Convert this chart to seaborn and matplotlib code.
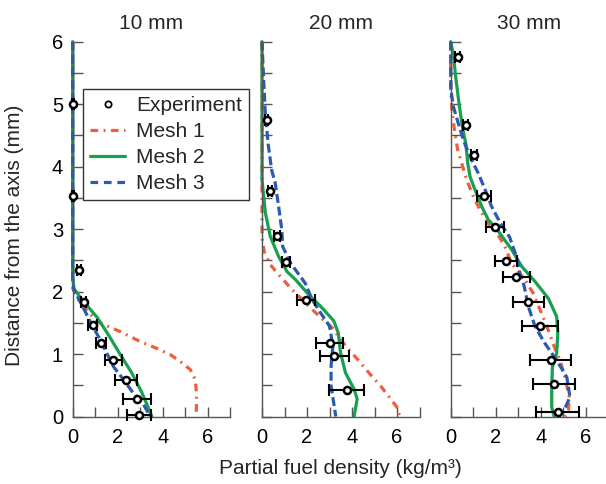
import matplotlib
matplotlib.use("Agg")
import matplotlib.pyplot as plt
from matplotlib.lines import Line2D
import pandas as pd
import seaborn as sns

sns.set_style("ticks")
plt.rcParams["font.family"] = ["Liberation Sans", "DejaVu Sans"]

# ---- data: axial distance (mm) vs partial fuel density (kg/m^3) ----
panel_titles = ["10 mm", "20 mm", "30 mm"]
series_names = ["Mesh 1", "Mesh 2", "Mesh 3"]

# 10 mm
mesh1_10_y = [6.0, 2.05, 1.87, 1.76, 1.52, 1.36, 1.20, 1.09, 0.99, 0.88, 0.75, 0.59, 0.37, 0.16, 0.0]
mesh1_10_x = [0.0, 0.0, 0.25, 0.48, 1.07, 2.11, 3.00, 3.74, 4.34, 4.78, 5.23, 5.45, 5.50, 5.50, 5.48]
mesh2_10_y = [6.0, 2.25, 2.05, 1.90, 1.75, 1.58, 1.30, 1.00, 0.70, 0.40, 0.15, 0.0]
mesh2_10_x = [0.0, 0.0, 0.05, 0.35, 0.70, 1.10, 1.60, 2.10, 2.62, 3.05, 3.35, 3.52]
mesh3_10_y = [6.0, 2.20, 2.03, 1.84, 1.47, 1.23, 1.01, 0.80, 0.59, 0.37, 0.19, 0.0]
mesh3_10_x = [0.0, 0.0, 0.05, 0.33, 0.85, 1.22, 1.52, 1.81, 2.26, 2.70, 3.15, 3.45]
exp_10_y = [5.0, 3.53, 2.34, 1.84, 1.47, 1.18, 0.91, 0.59, 0.28, 0.03]
exp_10_x = [0.0, 0.0, 0.27, 0.48, 0.89, 1.25, 1.81, 2.36, 2.85, 2.96]
exp_10_err = [0.05, 0.05, 0.08, 0.10, 0.19, 0.22, 0.36, 0.48, 0.62, 0.53]

# 20 mm
mesh1_20_y = [6.0, 3.68, 2.86, 2.64, 2.43, 2.24, 2.03, 1.82, 1.61, 1.42, 1.13, 0.89, 0.70, 0.49, 0.28, 0.12, 0.0]
mesh1_20_x = [0.0, 0.0, 0.0, 0.10, 0.37, 0.82, 1.34, 1.93, 2.53, 3.12, 3.71, 4.31, 4.75, 5.27, 5.72, 6.06, 6.10]
mesh2_20_y = [6.0, 3.79, 3.26, 2.88, 2.56, 2.32, 2.19, 1.95, 1.74, 1.53, 1.34, 1.02, 0.70, 0.44, 0.28, 0.0]
mesh2_20_x = [0.0, 0.0, 0.15, 0.37, 0.74, 1.11, 1.49, 2.08, 2.67, 3.19, 3.39, 3.49, 3.71, 4.09, 4.23, 4.09]
mesh3_20_y = [6.0, 5.49, 4.90, 4.37, 3.94, 3.75, 3.36, 2.99, 2.72, 2.45, 2.13, 1.87, 1.66, 1.45, 1.13, 0.81, 0.49, 0.0]
mesh3_20_x = [0.0, 0.06, 0.14, 0.27, 0.43, 0.58, 0.74, 0.88, 0.92, 1.28, 1.93, 2.23, 2.60, 3.00, 3.15, 3.07, 3.07, 3.28]
exp_20_y = [4.75, 3.61, 2.89, 2.47, 1.86, 1.18, 0.97, 0.42]
exp_20_x = [0.21, 0.36, 0.67, 1.08, 1.96, 3.00, 3.22, 3.76]
exp_20_err = [0.06, 0.08, 0.12, 0.18, 0.39, 0.60, 0.65, 0.78]

# 30 mm
mesh1_30_y = [6.0, 5.23, 4.85, 4.53, 4.27, 4.05, 3.79, 3.52, 3.31, 3.09, 2.99, 2.72, 2.45, 2.19, 1.97, 1.65, 1.38, 1.11, 0.90, 0.63, 0.31, 0.10, 0.0]
mesh1_30_x = [0.0, 0.0, 0.07, 0.19, 0.31, 0.49, 0.71, 1.01, 1.30, 1.67, 1.97, 2.41, 2.71, 3.30, 3.67, 4.04, 4.34, 4.61, 4.86, 5.08, 5.27, 5.23, 5.08]
mesh2_30_y = [6.0, 5.79, 5.44, 5.01, 4.64, 4.37, 4.05, 3.84, 3.63, 3.36, 3.15, 3.00, 2.67, 2.40, 2.16, 1.89, 1.60, 1.33, 1.01, 0.79, 0.47, 0.15, 0.0]
mesh2_30_x = [0.0, 0.12, 0.22, 0.37, 0.52, 0.67, 0.76, 0.86, 1.08, 1.38, 1.67, 2.05, 2.71, 3.16, 3.75, 4.34, 4.71, 4.76, 4.71, 4.52, 4.49, 4.49, 4.60]
mesh3_30_y = [6.0, 5.55, 5.23, 4.96, 4.69, 4.43, 4.16, 3.89, 3.63, 3.36, 3.10, 2.87, 2.55, 2.29, 2.08, 1.76, 1.44, 1.17, 0.90, 0.63, 0.31, 0.07, 0.0]
mesh3_30_x = [0.0, 0.0, 0.01, 0.12, 0.34, 0.56, 0.86, 1.23, 1.53, 1.82, 2.20, 2.62, 2.93, 3.08, 3.27, 3.45, 3.75, 4.19, 4.71, 5.16, 5.30, 5.00, 4.79]
exp_30_y = [5.75, 4.67, 4.18, 3.53, 3.04, 2.49, 2.23, 1.83, 1.45, 0.90, 0.52, 0.07]
exp_30_x = [0.31, 0.67, 1.04, 1.48, 1.97, 2.46, 2.92, 3.45, 3.97, 4.44, 4.59, 4.76]
exp_30_err = [0.10, 0.12, 0.15, 0.30, 0.40, 0.50, 0.60, 0.70, 0.80, 0.90, 0.95, 0.96]

x_ticks = [0, 2, 4, 6]
y_ticks = [0, 1, 2, 3, 4, 5, 6]

panels = [
    dict(mesh=[(mesh1_10_x, mesh1_10_y), (mesh2_10_x, mesh2_10_y), (mesh3_10_x, mesh3_10_y)],
         exp=(exp_10_x, exp_10_y, exp_10_err)),
    dict(mesh=[(mesh1_20_x, mesh1_20_y), (mesh2_20_x, mesh2_20_y), (mesh3_20_x, mesh3_20_y)],
         exp=(exp_20_x, exp_20_y, exp_20_err)),
    dict(mesh=[(mesh1_30_x, mesh1_30_y), (mesh2_30_x, mesh2_30_y), (mesh3_30_x, mesh3_30_y)],
         exp=(exp_30_x, exp_30_y, exp_30_err)),
]

# ---- styling ----
palette = {"Mesh 1": "#EF5D3B", "Mesh 2": "#17A050", "Mesh 3": "#2A5BAF"}
dash_map = {"Mesh 1": (2.4, 1.7, 0.6, 1.7), "Mesh 2": "", "Mesh 3": (2.8, 1.2)}
line_w = 2.3
spine_c = "#555555"
fs = 15

W, H = 606.0, 484.0
lefts_px = [72.7, 262.0, 450.7]
width_px, bottom_px, height_px = 157.5, 416.5, 374.8

fig = plt.figure(figsize=(W / 100, H / 100), dpi=100)

for i, (title, panel) in enumerate(zip(panel_titles, panels)):
    ax = fig.add_axes([lefts_px[i] / W, 1 - bottom_px / H, width_px / W, height_px / H])

    frames = []
    for name, (xs, ys) in zip(series_names, panel["mesh"]):
        frames.append(pd.DataFrame({"density": xs, "distance": ys, "model": name}))
    df = pd.concat(frames, ignore_index=True)

    sns.lineplot(data=df, x="density", y="distance", hue="model", style="model",
                 palette=palette, dashes=dash_map, sort=False, estimator=None,
                 linewidth=line_w, legend=False, ax=ax, clip_on=False)

    ex, ey, eerr = panel["exp"]
    ax.errorbar(ex, ey, xerr=eerr, fmt="none", ecolor="black", elinewidth=1.5,
                capsize=4.2, capthick=1.5, zorder=4, clip_on=False)
    sns.scatterplot(x=ex, y=ey, marker="o", s=26, facecolor="white",
                    edgecolor="black", linewidth=1.8, zorder=5, ax=ax, clip_on=False)

    ax.set_xlim(0, 7)
    ax.set_ylim(0, 6)
    ax.set_xticks(x_ticks)
    ax.set_xticks([1, 3, 5, 7], minor=True)
    ax.set_yticks(y_ticks)
    ax.set_yticks([0.5, 1.5, 2.5, 3.5, 4.5, 5.5], minor=True)
    ax.tick_params(which="both", direction="in", length=7.5, width=1.0, color=spine_c,
                   labelsize=14.5, labelcolor="black")
    ax.tick_params(axis="x", which="both", pad=8)
    ax.tick_params(axis="y", which="both", pad=7)
    if i > 0:
        ax.tick_params(axis="y", labelleft=False)
    ax.set_xlabel("")
    ax.set_ylabel("")
    sns.despine(ax=ax)
    for side in ("left", "bottom"):
        ax.spines[side].set_color(spine_c)
        ax.spines[side].set_linewidth(1.0)
    ax.set_title(title, fontsize=fs, pad=9)

    if i == 0:
        handles = [
            Line2D([], [], marker="o", ls="none", markersize=4.5, markerfacecolor="white",
                   markeredgecolor="black", markeredgewidth=1.3),
            Line2D([], [], color=palette["Mesh 1"], lw=line_w, dashes=dash_map["Mesh 1"]),
            Line2D([], [], color=palette["Mesh 2"], lw=line_w),
            Line2D([], [], color=palette["Mesh 3"], lw=line_w, dashes=(2.4, 1.8)),
        ]
        leg = ax.legend(handles, ["Experiment"] + series_names, loc="upper left",
                        bbox_to_anchor=(0.067, 0.873), borderaxespad=0, fontsize=fs,
                        frameon=True, fancybox=False, framealpha=1, edgecolor="#333333",
                        handlelength=1.67, handletextpad=0.53, borderpad=0.33,
                        labelspacing=0.34, numpoints=1)
        leg.get_frame().set_linewidth(1.0)

fig.text(340 / W, 1 - 468 / H, "Partial fuel density (kg/m³)", ha="center", va="center",
         fontsize=fs)
fig.text(15 / W, 1 - 235 / H, "Distance from the axis (mm)", ha="center", va="center",
         rotation=90, fontsize=fs)

fig.savefig("out.png", dpi=100)
